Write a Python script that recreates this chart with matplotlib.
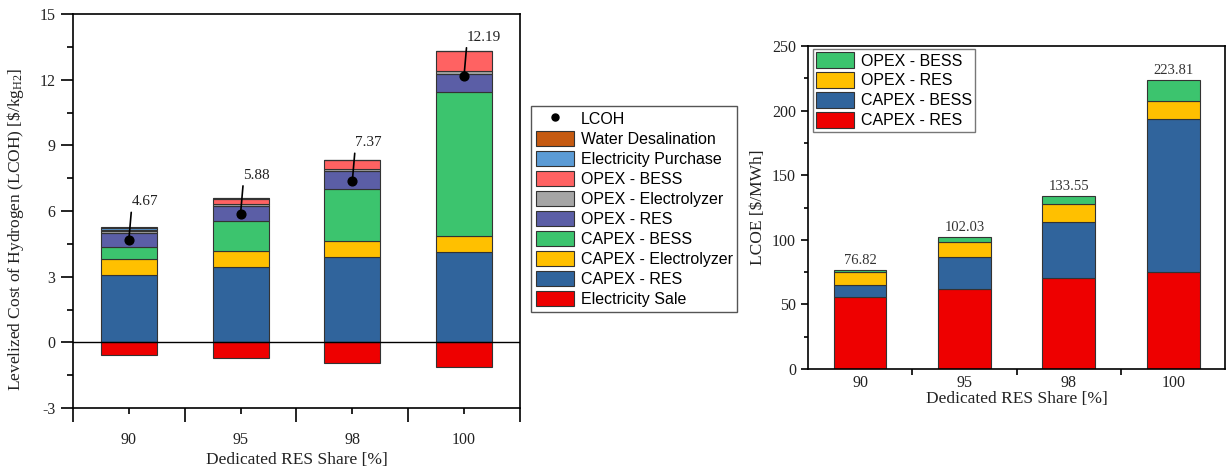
import numpy as np
import matplotlib
matplotlib.use('Agg')
import matplotlib.pyplot as plt
from matplotlib.ticker import MultipleLocator, FixedLocator, NullFormatter

plt.rcParams['axes.unicode_minus'] = False
plt.rcParams['mathtext.fontset'] = 'custom'
plt.rcParams['mathtext.rm'] = 'Liberation Serif'
plt.rcParams['mathtext.it'] = 'Liberation Serif:italic'

# RES share scenarios
shares = ['90', '95', '98', '100']

# LCOH breakdown [$/kg H2], stacked bottom-up
capex_res = [3.10, 3.44, 3.90, 4.14]
capex_elec = [0.72, 0.72, 0.71, 0.72]
capex_bess = [0.53, 1.37, 2.42, 6.59]
opex_res = [0.63, 0.68, 0.78, 0.83]
opex_elec = [0.12, 0.12, 0.12, 0.12]
opex_bess = [0.05, 0.20, 0.39, 0.90]
elec_purchase = [0.08, 0.05, 0.00, 0.00]
water_desal = [0.02, 0.02, 0.00, 0.00]
elec_sale = [-0.59, -0.72, -0.95, -1.11]
lcoh = [4.67, 5.88, 7.37, 12.19]

# LCOE breakdown [$/MWh]
lcoe_capex_res = [56.0, 61.7, 70.4, 74.8]
lcoe_capex_bess = [9.0, 25.0, 43.4, 118.7]
lcoe_opex_res = [10.0, 11.3, 13.7, 13.8]
lcoe_opex_bess = [1.82, 4.03, 6.05, 16.51]

C_RED = '#ee0000'
C_BLUE = '#30649c'
C_YEL = '#ffc000'
C_GRN = '#3cc46e'
C_PURP = '#5b5ea6'
C_GREY = '#a5a5a5'
C_PINK = '#ff6262'
C_LBLUE = '#5b9bd5'
C_BROWN = '#c55a11'
TXT = '#222222'

serif = ['Liberation Serif', 'DejaVu Serif']
sans = ['Liberation Sans', 'DejaVu Sans']

fig = plt.figure(figsize=(12.26, 4.69), dpi=100)
ax1 = fig.add_axes([0.0595, 0.130, 0.3646, 0.840])
ax2 = fig.add_axes([0.659, 0.2132, 0.3405, 0.6887])

x = np.arange(len(shares))
w = 0.5
ekw = dict(edgecolor='#333333', linewidth=0.8)

# ---- left: LCOH stack ----
layers = [
    (capex_res, C_BLUE, 'CAPEX - RES'),
    (capex_elec, C_YEL, 'CAPEX - Electrolyzer'),
    (capex_bess, C_GRN, 'CAPEX - BESS'),
    (opex_res, C_PURP, 'OPEX - RES'),
    (opex_elec, C_GREY, 'OPEX - Electrolyzer'),
    (opex_bess, C_PINK, 'OPEX - BESS'),
    (elec_purchase, C_LBLUE, 'Electricity Purchase'),
    (water_desal, C_BROWN, 'Water Desalination'),
]
bottom = np.zeros(len(shares))
handles = {}
for vals, col, lab in layers:
    b = ax1.bar(x, vals, w, bottom=bottom, color=col, label=lab, zorder=2, **ekw)
    handles[lab] = b
    bottom += np.array(vals)
handles['Electricity Sale'] = ax1.bar(x, elec_sale, w, color=C_RED, label='Electricity Sale',
                                      zorder=2, **ekw)
ax1.axhline(0, color='black', lw=1.0, zorder=3)

dots, = ax1.plot(x, lcoh, 'o', color='black', markersize=6.3, zorder=5, label='LCOH')
for xi, v in zip(x, lcoh):
    ax1.annotate(f'{v:.2f}', xy=(xi, v), xytext=(2, 23), textcoords='offset points',
                 ha='left', va='bottom', fontsize=11, family=serif, color=TXT,
                 arrowprops=dict(arrowstyle='-', color='black', lw=1.2,
                                 shrinkA=1, shrinkB=0, relpos=(0.0, 0.0)),
                 zorder=6)

ax1.set_xlim(-0.5, 3.5)
ax1.set_ylim(-3, 15)
ax1.yaxis.set_major_locator(MultipleLocator(3))
ax1.yaxis.set_minor_locator(MultipleLocator(1.5))
ax1.set_xticks(x)
ax1.set_xticklabels(shares)
ax1.xaxis.set_minor_locator(FixedLocator([-0.5, 0.5, 1.5, 2.5, 3.5]))
ax1.xaxis.set_minor_formatter(NullFormatter())
ax1.tick_params(axis='y', which='major', direction='out', length=9, width=1.2, labelsize=11.5)
ax1.tick_params(axis='y', which='minor', direction='out', length=4.5, width=1.2)
ax1.tick_params(axis='x', which='major', direction='out', length=4, width=1.2, labelsize=11.5, pad=13)
ax1.tick_params(axis='x', which='minor', direction='out', length=10, width=1.2)
for lbl in ax1.get_xticklabels() + ax1.get_yticklabels():
    lbl.set_family(serif)
    lbl.set_color(TXT)
for s in ax1.spines.values():
    s.set_linewidth(1.2)
ax1.set_xlabel('Dedicated RES Share [%]', fontsize=12.5, family=serif, color=TXT, labelpad=3)
ax1.set_ylabel('Levelized Cost of Hydrogen (LCOH) [\\$/kg$_{\\mathregular{H2}}$]', fontsize=12.5,
               family=serif, color=TXT)
ax1.yaxis.set_label_coords(-0.105, 0.455)

order = ['Water Desalination', 'Electricity Purchase', 'OPEX - BESS', 'OPEX - Electrolyzer',
         'OPEX - RES', 'CAPEX - BESS', 'CAPEX - Electrolyzer', 'CAPEX - RES', 'Electricity Sale']
leg1 = ax1.legend([dots] + [handles[k] for k in order], ['LCOH'] + order,
                  loc='upper left', bbox_to_anchor=(1.025, 0.767), prop={'family': sans, 'size': 11.5},
                  frameon=True, fancybox=False, edgecolor='#555555', framealpha=1,
                  handlelength=2.4, handleheight=1.1, labelspacing=0.245, handletextpad=0.4,
                  borderpad=0.3, borderaxespad=0, markerscale=0.8)
leg1.get_frame().set_linewidth(1.0)

# ---- right: LCOE stack ----
lcoe_layers = [
    (lcoe_capex_res, C_RED, 'CAPEX - RES'),
    (lcoe_capex_bess, C_BLUE, 'CAPEX - BESS'),
    (lcoe_opex_res, C_YEL, 'OPEX - RES'),
    (lcoe_opex_bess, C_GRN, 'OPEX - BESS'),
]
bottom = np.zeros(len(shares))
h2 = []
for vals, col, lab in lcoe_layers:
    h2.append(ax2.bar(x, vals, 0.505, bottom=bottom, color=col, label=lab, zorder=2, **ekw))
    bottom += np.array(vals)
for xi, tot in zip(x, bottom):
    ax2.text(xi, tot + 2.5, f'{tot:.2f}', ha='center', va='bottom', fontsize=10.5,
             family=serif, color='#333333')

ax2.set_xlim(-0.5, 3.5)
ax2.set_ylim(0, 250)
ax2.yaxis.set_major_locator(MultipleLocator(50))
ax2.yaxis.set_minor_locator(MultipleLocator(25))
ax2.set_xticks(x)
ax2.set_xticklabels(shares)
ax2.xaxis.set_minor_locator(FixedLocator([0.5, 1.5, 2.5]))
ax2.xaxis.set_minor_formatter(NullFormatter())
ax2.tick_params(axis='y', which='major', direction='out', length=5, width=1.2, labelsize=11.5)
ax2.tick_params(axis='y', which='minor', direction='out', length=3, width=1.2)
ax2.tick_params(axis='x', which='major', length=0, labelsize=11.5, pad=4)
ax2.tick_params(axis='x', which='minor', direction='out', length=4, width=1.2)
for lbl in ax2.get_xticklabels() + ax2.get_yticklabels():
    lbl.set_family(serif)
    lbl.set_color(TXT)
for s in ax2.spines.values():
    s.set_linewidth(1.2)
ax2.set_xlabel('Dedicated RES Share [%]', fontsize=12.5, family=serif, color=TXT, labelpad=0)
ax2.set_ylabel('LCOE [\\$/MWh]', fontsize=12.5, family=serif, color=TXT)
ax2.yaxis.set_label_coords(-0.1, 0.5)

leg2 = ax2.legend(h2[::-1], [l[2] for l in lcoe_layers][::-1], loc='upper left',
                  bbox_to_anchor=(0.012, 0.99), prop={'family': sans, 'size': 11.5},
                  frameon=True, fancybox=False, edgecolor='#777777', framealpha=1,
                  handlelength=2.4, handleheight=1.1, labelspacing=0.24, handletextpad=0.4,
                  borderpad=0.2, borderaxespad=0)

fig.savefig('out.png', dpi=100)
